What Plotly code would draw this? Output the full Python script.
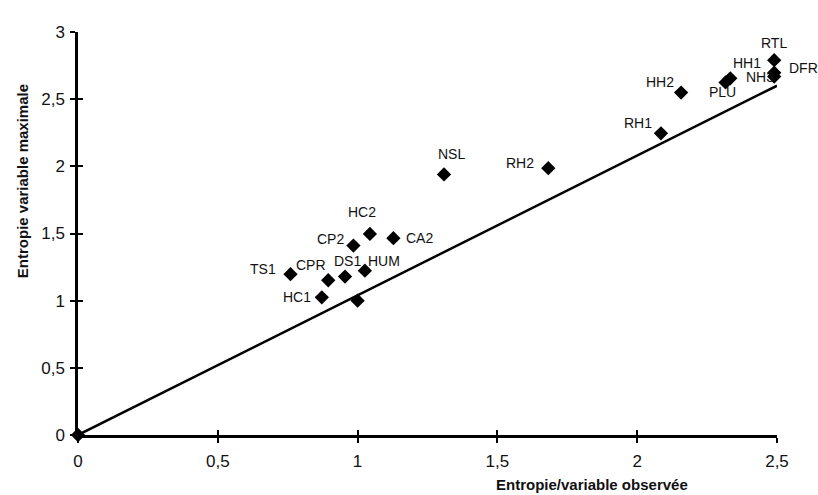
import plotly.graph_objects as go

# Data
labels = ["", "TS1", "CPR", "DS1", "HUM", "HC1", "", "CP2", "HC2", "CA2", "NSL", "RH2",
          "RH1", "HH2", "PLU", "HH1", "RTL", "DFR", "NH3"]
obs = [0.0, 0.76, 0.895, 0.955, 1.026, 0.872, 1.0, 0.985, 1.044, 1.128, 1.309, 1.682,
       2.085, 2.157, 2.316, 2.333, 2.49, 2.49, 2.49]
maxi = [0.0, 1.197, 1.152, 1.179, 1.223, 1.025, 1.0, 1.41, 1.497, 1.465, 1.94, 1.986,
        2.246, 2.549, 2.625, 2.655, 2.79, 2.697, 2.668]
line_x = [0.0, 2.5]
line_y = [0.0, 2.6]
xticks = [0, 0.5, 1, 1.5, 2, 2.5]
yticks = [0, 0.5, 1, 1.5, 2, 2.5, 3]

# label offsets in pixels (style only)
label_dx = [0, -28, -17, 2, 19, -25, 0, -23, -8, 26, 7, -28, -23, -21, -3, 17, 0, 29, -14]
label_dy = [0, 5, 15, 16, 10, 0, 0, 7, 22, 0, 20, 5, 10, 11, -10, 15, 17, 5, 0]

FONT = "Liberation Sans"

fig = go.Figure()
fig.add_trace(go.Scatter(x=line_x, y=line_y, mode="lines",
                         line=dict(color="black", width=2.5),
                         cliponaxis=False, showlegend=False, hoverinfo="skip"))
fig.add_trace(go.Scatter(x=obs, y=maxi, mode="markers",
                         marker=dict(symbol="diamond", size=11, color="black"),
                         cliponaxis=False, showlegend=False))

for lab, x, y, dx, dy in zip(labels, obs, maxi, label_dx, label_dy):
    if lab:
        fig.add_annotation(x=x, y=y, text=lab, showarrow=False, xshift=dx, yshift=dy,
                           font=dict(family=FONT, size=14, color="#111"))

fig.add_annotation(xref="paper", yref="paper", x=0.735, y=-0.122, text="<b>Entropie/variable observée</b>",
                   showarrow=False, font=dict(family=FONT, size=15, color="#111"),
                   xanchor="center", yanchor="middle")
fig.add_annotation(xref="paper", yref="paper", x=-0.080, y=0.63, text="<b>Entropie variable maximale</b>",
                   showarrow=False, textangle=-90, font=dict(family=FONT, size=15, color="#111"),
                   xanchor="center", yanchor="middle")

axis_common = dict(showgrid=False, zeroline=False, showline=True, linecolor="black", linewidth=2.5,
                   ticks="outside", ticklen=5, tickwidth=2, tickcolor="black",
                   tickfont=dict(family=FONT, size=17, color="#111"))

fig.update_layout(
    width=818, height=495,
    margin=dict(l=78, r=41, t=32, b=60),
    plot_bgcolor="white", paper_bgcolor="white",
    separators=", ",
    xaxis=dict(range=[0, 2.5], tickvals=xticks, ticklabelstandoff=4, **axis_common),
    yaxis=dict(range=[0, 3], tickvals=yticks, ticklabelstandoff=2, **axis_common),
    xaxis2=dict(range=[0, 2.5], overlaying="x", anchor="y", side="bottom", showgrid=False,
                zeroline=False, showline=False, ticks="inside", ticklen=5, tickwidth=2,
                tickcolor="black", tickvals=xticks, showticklabels=False),
    yaxis2=dict(range=[0, 3], overlaying="y", anchor="x", side="left", showgrid=False,
                zeroline=False, showline=False, ticks="inside", ticklen=5, tickwidth=2,
                tickcolor="black", tickvals=yticks, showticklabels=False),
)
fig.add_trace(go.Scatter(x=[None], y=[None], xaxis="x2", yaxis="y2", showlegend=False))

fig.write_html("out.html")
